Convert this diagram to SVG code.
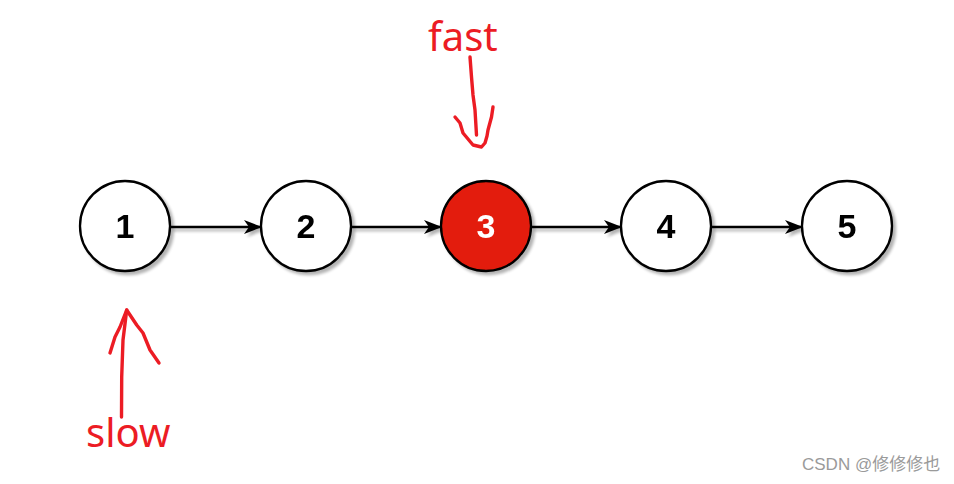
<svg xmlns="http://www.w3.org/2000/svg" width="954" height="484" viewBox="0 0 954 484">
<defs>
<style>
.node circle{fill:#fff;stroke:#000;stroke-width:2.3}
.node text{font-family:"Liberation Sans",Arial,sans-serif;font-weight:bold;font-size:34px;text-anchor:middle;fill:#000}
.edge{stroke:#000;stroke-width:2.5;fill:none}
.hand{stroke:#ec1c24;stroke-width:3.4;fill:none;stroke-linecap:round;stroke-linejoin:round}
.lbl{font-family:"Noto Sans","Liberation Sans",sans-serif;font-size:40px;fill:#ec1c24}
</style>
<filter id="sh" filterUnits="userSpaceOnUse" x="0" y="0" width="954" height="484">
<feGaussianBlur in="SourceAlpha" stdDeviation="1.8"/>
<feOffset dx="3" dy="3" result="b"/>
<feComponentTransfer><feFuncA type="linear" slope="0.3"/></feComponentTransfer>
<feMerge><feMergeNode/><feMergeNode in="SourceGraphic"/></feMerge>
</filter>
<marker id="ah" markerWidth="18" markerHeight="16" refX="17" refY="8" orient="auto" markerUnits="userSpaceOnUse">
<path d="M0,1 L18,8 L0,15 L5,8 Z" fill="#000"/>
</marker>
</defs>
<rect width="954" height="484" fill="#fff"/>
<g id="connectors" filter="url(#sh)">
<line class="edge" x1="170" y1="227" x2="261" y2="227" marker-end="url(#ah)"/>
<line class="edge" x1="351" y1="227" x2="441" y2="227" marker-end="url(#ah)"/>
<line class="edge" x1="531" y1="227" x2="621" y2="227" marker-end="url(#ah)"/>
<line class="edge" x1="711" y1="227" x2="802" y2="227" marker-end="url(#ah)"/>
</g>
<g id="node1" class="node" filter="url(#sh)"><circle cx="125" cy="226" r="45"/><text x="125" y="238">1</text></g>
<g id="node2" class="node" filter="url(#sh)"><circle cx="306" cy="226" r="45"/><text x="306" y="238">2</text></g>
<g id="node3" class="node" filter="url(#sh)"><circle cx="486" cy="226" r="45" style="fill:#e31b0b"/><text x="486" y="238" style="fill:#fff">3</text></g>
<g id="node4" class="node" filter="url(#sh)"><circle cx="666" cy="226" r="45"/><text x="666" y="238">4</text></g>
<g id="node5" class="node" filter="url(#sh)"><circle cx="847" cy="226" r="45"/><text x="847" y="238">5</text></g>
<g id="fast">
<text class="lbl" x="428" y="51">fast</text>
<path class="hand" d="M470,57 L471.5,77 L473,95 L475,110 L476.5,135"/>
<path class="hand" d="M455,117 L460,123 L463,133 L468,139 L473,145 L481.5,147 L485,143 L487,136 L488,130 L491.5,117 L493,107"/>
</g>
<g id="slow">
<text class="lbl" x="86" y="447">slow</text>
<path class="hand" d="M121.5,417 L121.7,377 L123,340 L126.7,310"/>
<path class="hand" d="M110,353 L115,337 L120,327 L126.7,310 L136.7,325 L143,333 L150,350 L159,363"/>
</g>
<text x="802" y="470" font-family="'Liberation Sans','Noto Sans CJK SC',sans-serif" font-size="17" fill="#9a9a9a">CSDN @修修修也</text>
</svg>
